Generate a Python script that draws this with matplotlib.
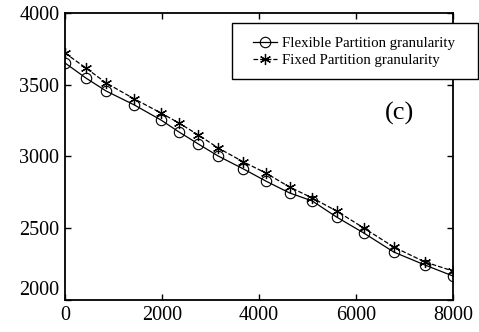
import matplotlib.pyplot as plt
import numpy as np
from matplotlib.patches import Rectangle

# partition size (x) and measured values for the two strategies
x = [0, 430, 850, 1430, 1980, 2350, 2750, 3160, 3680, 4140, 4630, 5100, 5600, 6160, 6780, 7420, 8000]
flexible = [3652, 3547, 3456, 3359, 3254, 3171, 3087, 3003, 2913, 2829, 2746, 2690, 2578, 2467, 2334, 2244, 2167]
fixed = [3721, 3617, 3512, 3401, 3303, 3233, 3150, 3059, 2962, 2885, 2787, 2711, 2620, 2502, 2369, 2265, 2202]

xticks = [0, 2000, 4000, 6000, 8000]
yticks = [2000, 2500, 3000, 3500, 4000]
labels = ['Flexible Partition granularity', 'Fixed Partition granularity']

plt.rcParams['font.family'] = ['Liberation Serif', 'DejaVu Serif']

W, H = 479, 332
fig = plt.figure(figsize=(W/100, H/100), dpi=100)
ax = fig.add_axes([65/W, 1-300/H, (453-65)/W, (300-13)/H])

ax.plot(x, flexible, '-', color='k', lw=0.9, marker='o', ms=7.5,
        mfc='none', mec='k', mew=0.8, label=labels[0])
ax.plot(x, fixed, '--', color='k', lw=0.9, marker=(6, 2, 0), ms=8,
        mec='k', mew=0.9, label=labels[1])

ax.set_xlim(0, 8000)
ax.set_ylim(2000, 4000)
ax.set_xticks(xticks)
ax.set_yticks(yticks)
ax.tick_params(direction='in', length=4, width=1, top=True, right=True,
               labelsize=14.5, pad=4)
for s in ax.spines.values():
    s.set_linewidth(1.3)

# the lowest y label sits a bit above the axis corner
ax.get_yticklabels()[0].set_va('bottom')

ax.text(6900, 3300, '(c)', fontsize=19, ha='center', va='center')

# legend box runs past the right spine, so draw the frame separately
fig.patches.append(Rectangle((232/W, 1-79/H), 246/W, 56/H, transform=fig.transFigure,
                             facecolor='white', edgecolor='k', lw=1, zorder=5))
leg = fig.legend(loc='upper left', bbox_to_anchor=(253/W, 1-37/H),
                 fontsize=10.7, frameon=False,
                 handlelength=1.6, handletextpad=0.35, borderpad=0,
                 labelspacing=0.23, borderaxespad=0)
leg.set_zorder(6)

fig.savefig('out.png', dpi=100)
